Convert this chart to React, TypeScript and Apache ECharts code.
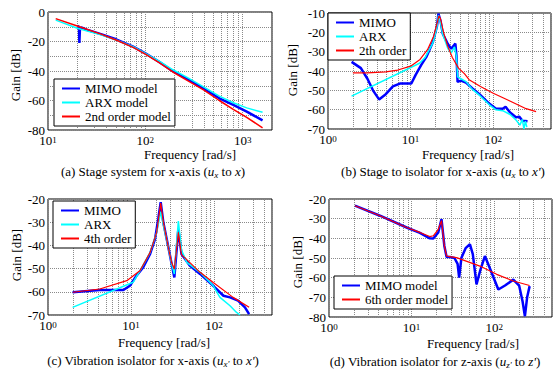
import React, { useEffect, useRef } from 'react';
import * as echarts from 'echarts';

const FONT = '"Liberation Serif", "Times New Roman", serif';

// ---------- (a) Stage system for x-axis ----------
const aFreqMimo = [20, 20.8, 21, 21.3, 22, 25, 35, 50, 75, 100, 140, 190, 280, 400, 575, 800, 1100, 1600];
const aGainMimo = [-9.5, -10, -21, -11, -10.5, -12, -15, -18.5, -23.5, -28, -34, -40, -46, -52, -58.5, -63, -67.5, -73.5];
const aFreqArx = [12, 20, 35, 50, 75, 100, 140, 190, 280, 400, 575, 800, 1100, 1600];
const aGainArx = [-5.5, -11, -15.5, -19, -23.5, -28, -33.5, -39, -45, -51, -57, -61.5, -65, -68];
const aFreqModel = [12, 20, 35, 50, 75, 100, 140, 190, 280, 400, 575, 800, 1100, 1600];
const aGainModel = [-4.5, -9.5, -15, -19, -24, -28.5, -34.5, -40.5, -47, -53, -60, -66, -71.5, -78.5];

// ---------- (b) Stage to isolator for x-axis ----------
const bFreqMimo = [1.93, 2.5, 3, 3.5, 4.15, 5, 6.1, 7.4, 10.2, 11.5, 13.4, 15.5, 18.6, 20.8, 21.7, 23, 24.5, 28.2, 31, 34.8, 36, 37, 40.6, 46.7, 56, 68, 90, 107, 130, 141, 160, 190, 206, 226, 260];
const bGainMimo = [-35.3, -38.5, -44, -50, -54.7, -52, -48, -46.5, -46.5, -42, -37, -32.7, -25, -17, -10.3, -14, -20.7, -26, -28.5, -25.8, -33, -45.6, -45, -46, -49, -52, -57, -59.4, -59.5, -58.5, -61.5, -64, -63.6, -65.7, -66];
const bFreqArx = [1.93, 12.8, 15, 18.6, 20.8, 21.7, 23, 24.5, 28.2, 31, 34, 36, 37, 40.6, 46.7, 56, 68, 90, 107, 130, 160, 190, 210, 225, 235, 245, 255];
const bGainArx = [-53, -36, -33, -25.5, -17.5, -11.2, -15, -21, -28.4, -30.6, -27.5, -33, -43, -44, -45.5, -49.5, -52.5, -57.5, -60, -60.5, -62.5, -65.5, -68, -65, -70, -66, -69];
const bFreqModel = [2, 3, 5, 7, 10, 13, 16, 19, 21, 22, 23, 25, 28, 32, 38, 45, 51, 70, 100, 150, 250, 330];
const bGainModel = [-41, -41, -40.5, -39.5, -37.5, -34, -29, -22, -15, -11.5, -13, -20, -27, -33, -38.5, -41.5, -44.5, -48, -51.5, -55, -59.5, -61];

// ---------- (c) Vibration isolator for x-axis ----------
const cFreqMimo = [1.98, 4.2, 8.1, 9.7, 11.7, 14, 17, 19.5, 21.3, 22.8, 24.5, 28.2, 30.9, 33.3, 37.2, 40.6, 51, 68, 98, 130, 156, 195, 236, 265];
const cGainMimo = [-60.2, -59.2, -59.2, -57.4, -53, -49.5, -43.7, -37.2, -28.6, -21.4, -30, -40.8, -48, -53.8, -33, -43.7, -48.7, -52.3, -57.4, -61.7, -62.4, -63.8, -66.7, -69.6];
const cFreqArx = [1.98, 10.6, 12.8, 17, 20.4, 22.8, 24.5, 28.2, 30.9, 33.3, 37.2, 40.6, 47, 68, 98, 118, 156, 187, 206];
const cGainArx = [-66.7, -55.9, -51, -43, -34.4, -25.5, -31, -41, -48, -52.3, -29.5, -42, -47.3, -51.6, -57.4, -62.4, -66, -68.9, -70];
const cFreqModel = [2, 4.2, 8.9, 12.8, 17, 20.4, 22.8, 24.5, 28.2, 30.9, 33.3, 37.2, 40.6, 68, 98, 170, 265];
const cGainModel = [-60.2, -58.8, -55.2, -50.9, -43, -34.4, -21.8, -30, -41, -47.5, -50.2, -34.4, -44, -51.6, -56, -62.4, -66.7];

// ---------- (d) Vibration isolator for z-axis ----------
const dFreqMimo = [2.06, 4.14, 8.7, 12.6, 16.6, 18.3, 21, 23, 24.9, 26.5, 29, 33, 36, 37.6, 40, 45, 50.8, 55, 61, 68, 77, 90, 112, 135, 170, 200, 220, 235, 250, 268];
const dGainMimo = [-23.4, -28.5, -34.5, -37.2, -40, -40.1, -37, -30.2, -43.9, -49.5, -49.5, -50, -53, -60, -50, -45, -43, -48, -63.4, -56, -49, -56, -66, -64, -61, -64, -72, -79.6, -70, -64.3];
const dFreqModel = [2.06, 4.14, 8.7, 12.6, 16.6, 18.3, 21, 23, 24.9, 26.5, 29, 35, 67, 107, 170, 268];
const dGainModel = [-23.4, -28.5, -34.5, -37, -39.1, -38.7, -35.5, -31, -43.9, -49, -49.3, -49.8, -54.1, -58.3, -61.7, -64];

// gridline positions (minor decades)
const minorA = [20, 30, 40, 50, 60, 70, 80, 90, 200, 300, 400, 500, 600, 700, 800, 900];
const minorB = [2, 3, 4, 5, 6, 7, 8, 9, 20, 30, 40, 50, 60, 70, 80, 90, 200, 300, 400];

const BLUE = '#0000ff';
const CYAN = '#00ffff';
const RED = '#ff0000';

function zip(f: number[], g: number[]) {
  return f.map((v, i) => [v, g[i]]);
}

function supFormatter(v: number) {
  const e = Math.log10(v);
  const r = Math.round(e);
  if (Math.abs(e - r) > 1e-6) return '';
  return `{b|10}{s|${r}}`;
}

export default function App() {
  const ref = useRef<HTMLDivElement>(null);
  useEffect(() => {
    document.body.style.margin = '0';
    const chart = echarts.init(ref.current!, undefined, { renderer: 'svg' });

    const grids = [
      { left: 48, top: 12, width: 224, height: 118 },
      { left: 328, top: 13, width: 223, height: 116 },
      { left: 48, top: 199, width: 224, height: 116 },
      { left: 329, top: 199, width: 223, height: 118 },
    ];
    const xRanges = [[10, 2000], [1, 500], [1, 500], [1, 500]];
    const yRanges = [[-80, 0, 20], [-70, -10, 10], [-70, -20, 10], [-80, -20, 10]];

    const xAxis = grids.map((_, i) => ({
      type: 'log',
      logBase: 10,
      gridIndex: i,
      min: xRanges[i][0],
      max: xRanges[i][1],
      axisLine: { show: false },
      axisTick: { show: false },
      splitLine: { show: true, lineStyle: { color: '#8a8a8a', type: 'dotted', width: 1 } },
      axisLabel: {
        margin: 5,
        formatter: supFormatter,
        rich: {
          b: { fontFamily: FONT, fontSize: 13, color: '#000', lineHeight: 12, verticalAlign: 'bottom' },
          s: { fontFamily: FONT, fontSize: 9, color: '#000', lineHeight: 7, verticalAlign: 'top' },
        },
      },
    }));
    const yAxis = grids.map((_, i) => ({
      type: 'value',
      gridIndex: i,
      min: yRanges[i][0],
      max: yRanges[i][1],
      interval: 10,
      axisLine: { show: false },
      axisTick: { show: false },
      splitLine: { show: true, lineStyle: { color: '#8a8a8a', type: 'dotted', width: 1 } },
      axisLabel: {
        margin: 3,
        fontFamily: FONT,
        fontSize: 13,
        lineHeight: 8,
        padding: [0, 0, 2, 0],
        color: '#000',
        formatter: (v: number) => (v % yRanges[i][2] === 0 ? String(v) : ''),
      },
    }));

    const minorLines = (idx: number, vals: number[]) => ({
      type: 'line',
      name: '',
      xAxisIndex: idx,
      yAxisIndex: idx,
      data: [],
      silent: true,
      markLine: {
        silent: true,
        symbol: ['none', 'none'],
        z: 1,
        label: { show: false },
        lineStyle: { color: '#8a8a8a', type: 'dotted', width: 1 },
        data: vals.map((v) => ({ xAxis: v })),
      },
    });

    const line = (idx: number, name: string, f: number[], g: number[], color: string, width: number) => ({
      type: 'line',
      name,
      xAxisIndex: idx,
      yAxisIndex: idx,
      data: zip(f, g),
      showSymbol: false,
      symbol: 'none',
      z: 3,
      lineStyle: { color, width },
      itemStyle: { color },
    });

    const series = [
      minorLines(0, minorA),
      minorLines(1, minorB),
      minorLines(2, minorB),
      minorLines(3, minorB),
      line(0, 'MIMO model', aFreqMimo, aGainMimo, BLUE, 2.5),
      line(0, 'ARX model', aFreqArx, aGainArx, CYAN, 1.5),
      line(0, '2nd order model', aFreqModel, aGainModel, RED, 1.5),
      line(1, 'MIMO', bFreqMimo, bGainMimo, BLUE, 2.5),
      line(1, 'ARX', bFreqArx, bGainArx, CYAN, 1.5),
      line(1, '2th order', bFreqModel, bGainModel, RED, 1.2),
      line(2, 'MIMO', cFreqMimo, cGainMimo, BLUE, 2.5),
      line(2, 'ARX', cFreqArx, cGainArx, CYAN, 1.5),
      line(2, '4th order', cFreqModel, cGainModel, RED, 1.2),
      line(3, 'MIMO model', dFreqMimo, dGainMimo, BLUE, 2.5),
      line(3, '6th order model', dFreqModel, dGainModel, RED, 1.2),
    ];

    const legendBase = {
      orient: 'vertical',
      backgroundColor: '#fff',
      borderColor: '#000',
      borderWidth: 1,
      borderRadius: 0,
      padding: [3, 4, 3, 7],
      itemWidth: 18,
      itemHeight: 10,
      itemGap: 1,
      selectedMode: false,
      itemStyle: { opacity: 0, borderWidth: 0 },
      textStyle: { fontFamily: FONT, fontSize: 13, color: '#000', lineHeight: 12 },
    };
    const legend = [
      { ...legendBase, left: 54, top: 79, data: ['MIMO model', 'ARX model', '2nd order model'] },
      { ...legendBase, left: 328, top: 13, data: ['MIMO', 'ARX', '2th order'] },
      { ...legendBase, left: 53, top: 201, data: ['MIMO', 'ARX', '4th order'] },
      { ...legendBase, left: 334, top: 276, data: ['MIMO model', '6th order model'] },
    ];

    const txt = (x: number, y: number, text: string, rotate = false) => ({
      type: 'text',
      x,
      y,
      rotation: rotate ? Math.PI / 2 : 0,
      style: { text, fill: '#000', fontFamily: FONT, fontSize: 13, lineHeight: 12, align: 'center', verticalAlign: 'middle' },
    });
    const capRich = {
      n: { fontFamily: FONT, fontSize: 13, color: '#000', lineHeight: 16, verticalAlign: 'middle' },
      i: { fontFamily: FONT, fontSize: 13, color: '#000', fontStyle: 'italic', lineHeight: 16, verticalAlign: 'middle' },
      sub: { fontFamily: FONT, fontSize: 9, color: '#000', fontStyle: 'italic', lineHeight: 10, verticalAlign: 'bottom' },
    };
    const cap = (x: number, y: number, text: string) => ({
      type: 'text',
      x,
      y,
      style: { text, rich: capRich, fill: '#000', fontFamily: FONT, fontSize: 13, align: 'center', verticalAlign: 'middle' },
    });

    const graphic = [
      txt(15, 75, 'Gain [dB]', true),
      txt(292, 70, 'Gain [dB]', true),
      txt(16, 255, 'Gain [dB]', true),
      txt(297, 262, 'Gain [dB]', true),
      txt(190, 154, 'Frequency [rad/s]'),
      txt(468, 154, 'Frequency [rad/s]'),
      txt(164, 342, 'Frequency [rad/s]'),
      txt(473, 343, 'Frequency [rad/s]'),
      cap(153, 171, '{n|(a) Stage system for x-axis (}{i|u}{sub|x}{n| to }{i|x}{n|)}'),
      cap(443, 171, '{n|(b) Stage to isolator for x-axis (}{i|u}{sub|x}{n| to }{i|x\'}{n|)}'),
      cap(153, 360, '{n|(c) Vibration isolator for x-axis (}{i|u}{sub|x\'}{n| to }{i|x\'}{n|)}'),
      cap(435, 361, '{n|(d) Vibration isolator for z-axis (}{i|u}{sub|z\'}{n| to }{i|z\'}{n|)}'),
    ];

    chart.setOption({
      animation: false,
      backgroundColor: '#fff',
      grid: grids.map((g) => ({ ...g, show: true, borderColor: '#000', borderWidth: 1, backgroundColor: 'transparent', containLabel: false })),
      xAxis,
      yAxis,
      legend,
      series,
      graphic,
    });
    return () => chart.dispose();
  }, []);
  return <div ref={ref} style={{ width: 560, height: 372 }} />;
}
